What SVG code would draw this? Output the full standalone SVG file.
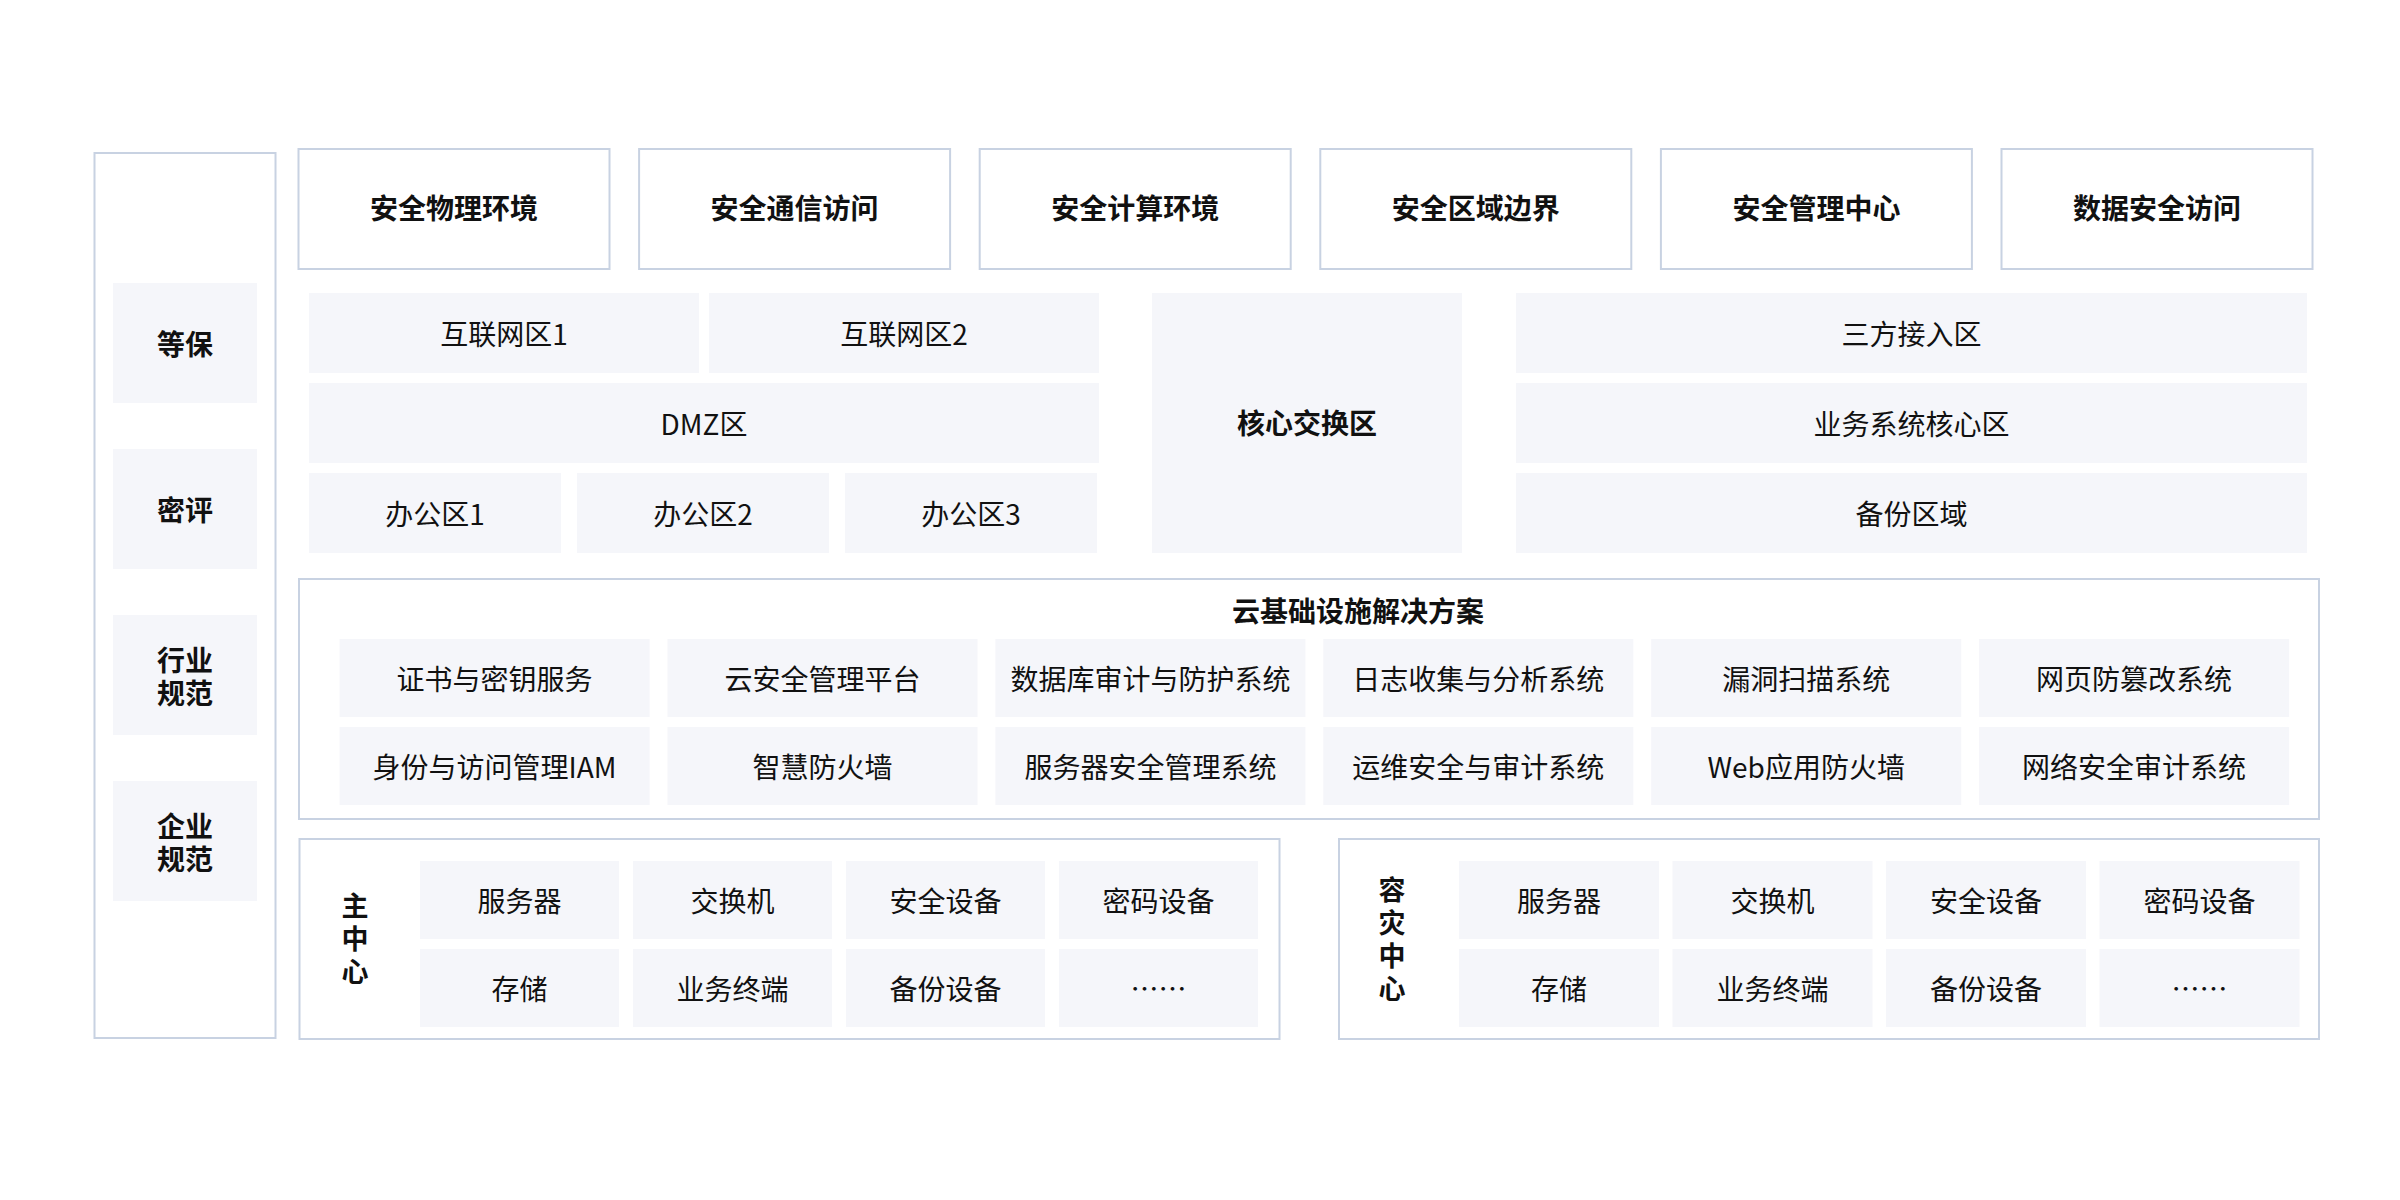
<svg xmlns="http://www.w3.org/2000/svg" width="2400" height="1200" viewBox="0 0 2400 1200">
<style>
.frame{fill:#ffffff;stroke:#c8d2e2;stroke-width:2}
.cell{fill:#f5f6fa}
text{font-family:"Noto Sans CJK SC","Noto Sans",sans-serif;font-size:28px;fill:#111111;text-anchor:middle;dominant-baseline:central}
.b{font-weight:700}
.v{writing-mode:vertical-rl;font-size:27px;letter-spacing:6px}
</style>
<rect width="2400" height="1200" fill="#ffffff"/>

<g id="compliance">
<rect class="frame" x="94.5" y="153" width="181" height="885"/>
<g id="dengbao"><rect class="cell" x="113" y="283" width="144" height="120"/><text class="b" x="185" y="343">等保</text></g>
<g id="mipin"><rect class="cell" x="113" y="449" width="144" height="120"/><text class="b" x="185" y="509">密评</text></g>
<g id="hangye"><rect class="cell" x="113" y="615" width="144" height="120"/><text class="b" x="185" y="659">行业<tspan x="185" dy="33">规范</tspan></text></g>
<g id="qiye"><rect class="cell" x="113" y="781" width="144" height="120"/><text class="b" x="185" y="825">企业<tspan x="185" dy="33">规范</tspan></text></g>
</g>

<g id="top-row">
<g id="t1"><rect class="frame" x="298.5" y="149" width="311" height="120"/><text class="b" x="454" y="207">安全物理环境</text></g>
<g id="t2"><rect class="frame" x="639.1" y="149" width="311" height="120"/><text class="b" x="794.6" y="207">安全通信访问</text></g>
<g id="t3"><rect class="frame" x="979.7" y="149" width="311" height="120"/><text class="b" x="1135.2" y="207">安全计算环境</text></g>
<g id="t4"><rect class="frame" x="1320.3" y="149" width="311" height="120"/><text class="b" x="1475.8" y="207">安全区域边界</text></g>
<g id="t5"><rect class="frame" x="1660.9" y="149" width="311" height="120"/><text class="b" x="1816.4" y="207">安全管理中心</text></g>
<g id="t6"><rect class="frame" x="2001.5" y="149" width="311" height="120"/><text class="b" x="2157" y="207">数据安全访问</text></g>
</g>

<g id="zones">
<g id="z1"><rect class="cell" x="309" y="293" width="390" height="80"/><text x="504" y="333">互联网区1</text></g>
<g id="z2"><rect class="cell" x="709" y="293" width="390" height="80"/><text x="904" y="333">互联网区2</text></g>
<g id="z3"><rect class="cell" x="309" y="383" width="790" height="80"/><text x="704" y="423">DMZ区</text></g>
<g id="z4"><rect class="cell" x="309" y="473" width="252" height="80"/><text x="435" y="513">办公区1</text></g>
<g id="z5"><rect class="cell" x="577" y="473" width="252" height="80"/><text x="703" y="513">办公区2</text></g>
<g id="z6"><rect class="cell" x="845" y="473" width="252" height="80"/><text x="971" y="513">办公区3</text></g>
<g id="z7"><rect class="cell" x="1152" y="293" width="310" height="260"/><text class="b" x="1307" y="422">核心交换区</text></g>
<g id="z8"><rect class="cell" x="1516" y="293" width="791" height="80"/><text x="1911.5" y="333">三方接入区</text></g>
<g id="z9"><rect class="cell" x="1516" y="383" width="791" height="80"/><text x="1911.5" y="423">业务系统核心区</text></g>
<g id="z10"><rect class="cell" x="1516" y="473" width="791" height="80"/><text x="1911.5" y="513">备份区域</text></g>
</g>

<g id="cloud">
<rect class="frame" x="299" y="579" width="2020" height="240"/>
<text class="b" x="1358" y="610">云基础设施解决方案</text>
<g id="c1"><rect class="cell" x="339.6" y="639" width="310" height="78"/><text x="494.6" y="678">证书与密钥服务</text></g>
<g id="c2"><rect class="cell" x="667.5" y="639" width="310" height="78"/><text x="822.5" y="678">云安全管理平台</text></g>
<g id="c3"><rect class="cell" x="995.4" y="639" width="310" height="78"/><text x="1150.4" y="678">数据库审计与防护系统</text></g>
<g id="c4"><rect class="cell" x="1323.3" y="639" width="310" height="78"/><text x="1478.3" y="678">日志收集与分析系统</text></g>
<g id="c5"><rect class="cell" x="1651.2" y="639" width="310" height="78"/><text x="1806.2" y="678">漏洞扫描系统</text></g>
<g id="c6"><rect class="cell" x="1979.1" y="639" width="310" height="78"/><text x="2134.1" y="678">网页防篡改系统</text></g>
<g id="c7"><rect class="cell" x="339.6" y="727" width="310" height="78"/><text x="494.6" y="766">身份与访问管理IAM</text></g>
<g id="c8"><rect class="cell" x="667.5" y="727" width="310" height="78"/><text x="822.5" y="766">智慧防火墙</text></g>
<g id="c9"><rect class="cell" x="995.4" y="727" width="310" height="78"/><text x="1150.4" y="766">服务器安全管理系统</text></g>
<g id="c10"><rect class="cell" x="1323.3" y="727" width="310" height="78"/><text x="1478.3" y="766">运维安全与审计系统</text></g>
<g id="c11"><rect class="cell" x="1651.2" y="727" width="310" height="78"/><text x="1806.2" y="766">Web应用防火墙</text></g>
<g id="c12"><rect class="cell" x="1979.1" y="727" width="310" height="78"/><text x="2134.1" y="766">网络安全审计系统</text></g>
</g>

<g id="main-center">
<rect class="frame" x="299.5" y="839" width="980" height="200"/>
<text class="b v" x="355" y="942">主中心</text>
<g id="m1"><rect class="cell" x="420" y="861" width="199" height="78"/><text x="519.5" y="900">服务器</text></g>
<g id="m2"><rect class="cell" x="633" y="861" width="199" height="78"/><text x="732.5" y="900">交换机</text></g>
<g id="m3"><rect class="cell" x="846" y="861" width="199" height="78"/><text x="945.5" y="900">安全设备</text></g>
<g id="m4"><rect class="cell" x="1059" y="861" width="199" height="78"/><text x="1158.5" y="900">密码设备</text></g>
<g id="m5"><rect class="cell" x="420" y="949" width="199" height="78"/><text x="519.5" y="988">存储</text></g>
<g id="m6"><rect class="cell" x="633" y="949" width="199" height="78"/><text x="732.5" y="988">业务终端</text></g>
<g id="m7"><rect class="cell" x="846" y="949" width="199" height="78"/><text x="945.5" y="988">备份设备</text></g>
<g id="m8"><rect class="cell" x="1059" y="949" width="199" height="78"/><text x="1158.5" y="988">……</text></g>
</g>

<g id="dr-center">
<rect class="frame" x="1339" y="839" width="980" height="200"/>
<text class="b v" x="1392" y="942">容灾中心</text>
<g id="d1"><rect class="cell" x="1459" y="861" width="200" height="78"/><text x="1559" y="900">服务器</text></g>
<g id="d2"><rect class="cell" x="1672.5" y="861" width="200" height="78"/><text x="1772.5" y="900">交换机</text></g>
<g id="d3"><rect class="cell" x="1886" y="861" width="200" height="78"/><text x="1986" y="900">安全设备</text></g>
<g id="d4"><rect class="cell" x="2099.5" y="861" width="200" height="78"/><text x="2199.5" y="900">密码设备</text></g>
<g id="d5"><rect class="cell" x="1459" y="949" width="200" height="78"/><text x="1559" y="988">存储</text></g>
<g id="d6"><rect class="cell" x="1672.5" y="949" width="200" height="78"/><text x="1772.5" y="988">业务终端</text></g>
<g id="d7"><rect class="cell" x="1886" y="949" width="200" height="78"/><text x="1986" y="988">备份设备</text></g>
<g id="d8"><rect class="cell" x="2099.5" y="949" width="200" height="78"/><text x="2199.5" y="988">……</text></g>
</g>

<g id="connectors"></g>
</svg>
